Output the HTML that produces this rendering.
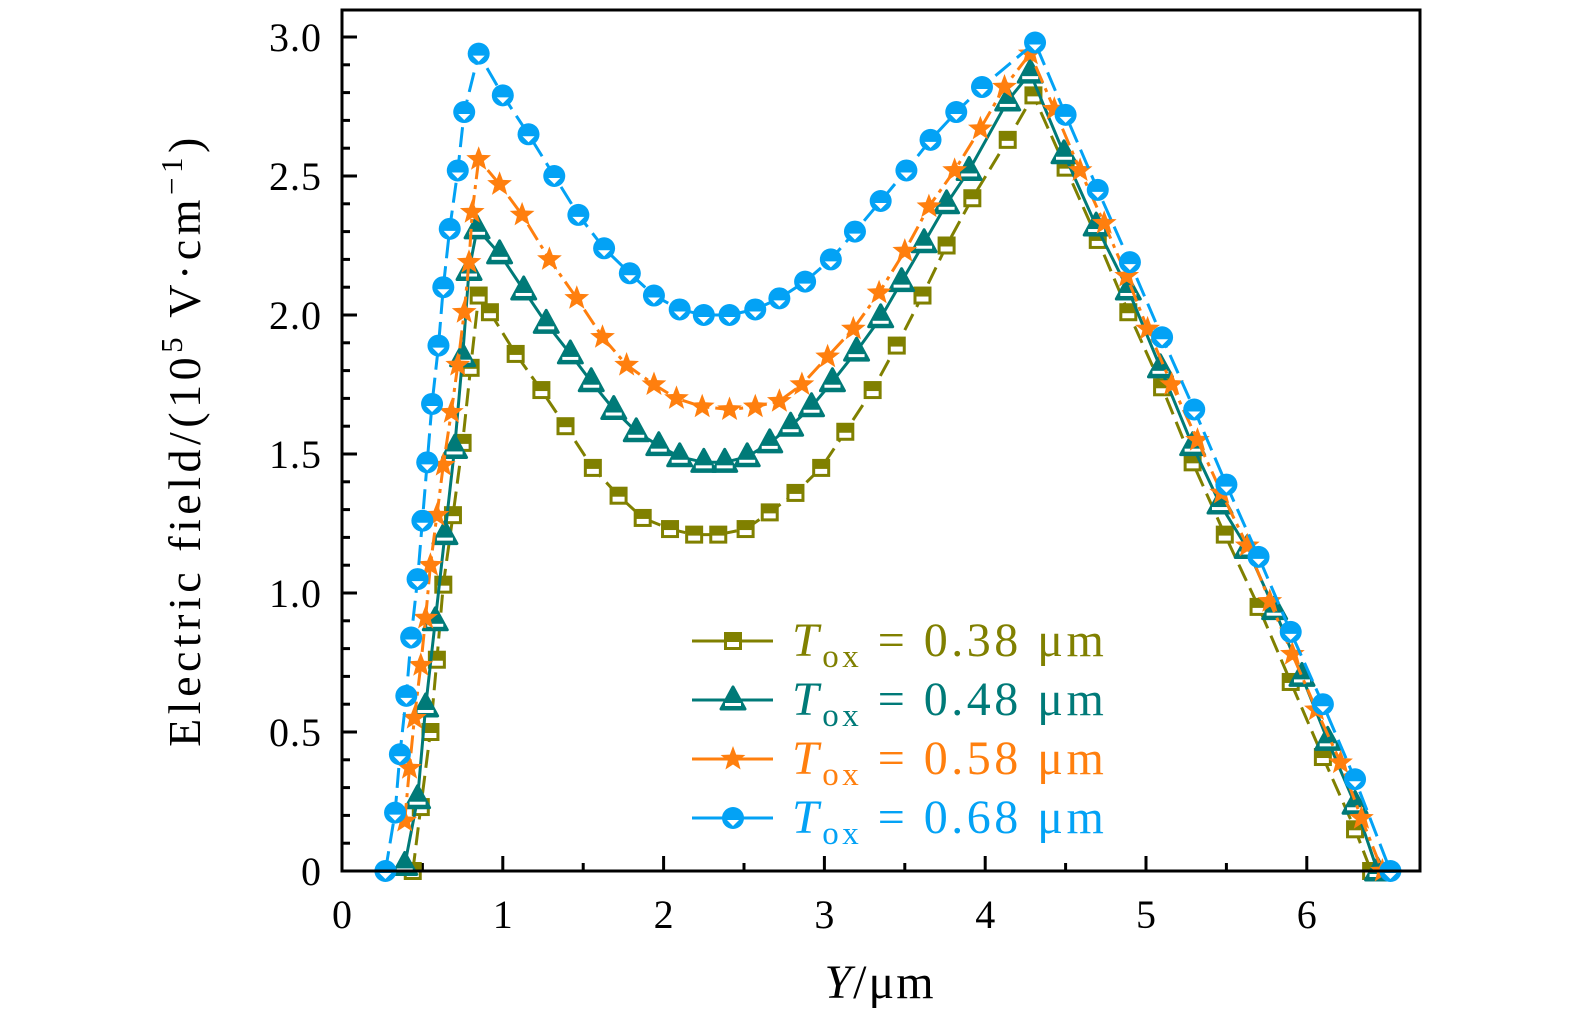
<!DOCTYPE html>
<html><head><meta charset="utf-8"><style>
html,body{margin:0;padding:0;background:#fff;}
svg{display:block;font-family:"Liberation Serif",serif;}
</style></head><body>
<svg id="chart" width="1575" height="1024" viewBox="0 0 1575 1024">
<rect x="0" y="0" width="1575" height="1024" fill="#fff"/>
<g id="ticks"></g>
<g id="series"></g>
<rect x="342" y="10" width="1078" height="861" fill="none" stroke="#000" stroke-width="3"/>
<g id="legend"></g>
<text x="880" y="998" font-size="48" letter-spacing="2" text-anchor="middle"><tspan font-style="italic">Y</tspan>/μm</text>
<text transform="translate(200,440) rotate(-90)" font-size="46" letter-spacing="4.5" text-anchor="middle">Electric field/(10<tspan dy="-18" font-size="31">5</tspan><tspan dy="18"> V·cm</tspan><tspan dy="-18" font-size="31">−1</tspan><tspan dy="18">)</tspan></text>
</svg>
<script>
const xTicks = [0,1,2,3,4,5,6];
const yTicks = [0,0.5,1.0,1.5,2.0,2.5,3.0];
const yTickLabels = ["0","0.5","1.0","1.5","2.0","2.5","3.0"];
const seriesNames = ["T_ox = 0.38 μm","T_ox = 0.48 μm","T_ox = 0.58 μm","T_ox = 0.68 μm"];
const legendValues = ["0.38","0.48","0.58","0.68"];
const s038x = [0.44,0.49,0.55,0.59,0.63,0.69,0.75,0.80,0.85,0.92,1.08,1.24,1.39,1.56,1.72,1.87,2.04,2.19,2.34,2.51,2.66,2.82,2.98,3.13,3.30,3.45,3.61,3.76,3.92,4.14,4.30,4.50,4.70,4.89,5.10,5.29,5.49,5.70,5.90,6.10,6.30,6.40];
const s038y = [0,0.23,0.50,0.76,1.03,1.28,1.54,1.81,2.07,2.01,1.86,1.73,1.60,1.45,1.35,1.27,1.23,1.21,1.21,1.23,1.29,1.36,1.45,1.58,1.73,1.89,2.07,2.25,2.42,2.63,2.79,2.53,2.27,2.01,1.74,1.47,1.21,0.95,0.68,0.41,0.15,0];
const s048x = [0.39,0.47,0.52,0.58,0.64,0.70,0.75,0.79,0.84,0.98,1.13,1.27,1.42,1.55,1.69,1.83,1.97,2.10,2.25,2.38,2.52,2.66,2.79,2.92,3.05,3.20,3.35,3.48,3.62,3.76,3.90,4.14,4.28,4.49,4.69,4.89,5.09,5.29,5.46,5.63,5.80,5.97,6.13,6.30,6.44];
const s048y = [0.02,0.26,0.59,0.90,1.21,1.52,1.85,2.16,2.31,2.22,2.09,1.97,1.86,1.76,1.66,1.58,1.53,1.49,1.47,1.47,1.49,1.54,1.60,1.67,1.76,1.87,1.99,2.12,2.26,2.40,2.52,2.77,2.87,2.58,2.32,2.09,1.81,1.53,1.32,1.16,0.94,0.70,0.47,0.24,0];
const s058x = [0.39,0.42,0.45,0.49,0.52,0.55,0.59,0.63,0.68,0.72,0.76,0.79,0.81,0.85,0.98,1.12,1.29,1.46,1.62,1.77,1.94,2.08,2.24,2.41,2.57,2.72,2.86,3.02,3.18,3.34,3.50,3.65,3.81,3.97,4.12,4.28,4.43,4.59,4.74,4.88,5.01,5.16,5.32,5.47,5.63,5.77,5.91,6.06,6.21,6.34,6.47];
const s058y = [0.18,0.37,0.55,0.74,0.91,1.10,1.28,1.46,1.65,1.82,2.01,2.19,2.37,2.56,2.47,2.36,2.20,2.06,1.92,1.82,1.75,1.70,1.67,1.66,1.67,1.69,1.75,1.85,1.95,2.08,2.23,2.39,2.52,2.67,2.82,2.94,2.74,2.52,2.33,2.14,1.95,1.75,1.55,1.36,1.17,0.97,0.78,0.58,0.39,0.19,0];
const s068x = [0.27,0.33,0.36,0.40,0.43,0.47,0.50,0.53,0.56,0.60,0.63,0.67,0.72,0.76,0.85,1.00,1.16,1.32,1.47,1.63,1.79,1.94,2.10,2.25,2.41,2.57,2.72,2.88,3.04,3.19,3.35,3.51,3.66,3.82,3.98,4.31,4.50,4.70,4.90,5.10,5.30,5.50,5.70,5.90,6.10,6.30,6.52];
const s068y = [0,0.21,0.42,0.63,0.84,1.05,1.26,1.47,1.68,1.89,2.10,2.31,2.52,2.73,2.94,2.79,2.65,2.50,2.36,2.24,2.15,2.07,2.02,2.00,2.00,2.02,2.06,2.12,2.20,2.30,2.41,2.52,2.63,2.73,2.82,2.98,2.72,2.45,2.19,1.92,1.66,1.39,1.13,0.86,0.60,0.33,0];

const NS="http://www.w3.org/2000/svg";
const X0=342,X1=1420,Y0=871,Y1=10;
const xs=v=>X0+v*160.8;
const ys=v=>Y0-v*278;
function mk(tag,attrs,parent){const e=document.createElementNS(NS,tag);for(const k in attrs)e.setAttribute(k,attrs[k]);parent.appendChild(e);return e;}
const tg=document.getElementById('ticks');
xTicks.forEach((t,i)=>{
  let l=mk('line',{x1:xs(t),x2:xs(t),y1:Y0,y2:Y0-15,stroke:'#000','stroke-width':3},tg);
  
  
  let m=mk('line',{x1:xs(t+0.5),x2:xs(t+0.5),y1:Y0,y2:Y0-8,stroke:'#000','stroke-width':3},tg);
  
  
  let tx=mk('text',{x:xs(t),y:928,'font-size':40,'text-anchor':'middle'},tg);
  tx.textContent=String(t);
  
  
});
for(let k=0;k<=30;k++){
  const v=k/10, major=(k%5===0);
  let l=mk('line',{x1:X0,x2:X0+(major?15:8),y1:ys(v),y2:ys(v),stroke:'#000','stroke-width':3},tg);
  
  
}
yTicks.forEach((t,i)=>{
  let tx=mk('text',{x:322,y:ys(t)+14,'font-size':40,'letter-spacing':1,'text-anchor':'end'},tg);
  tx.textContent=yTickLabels[i];
  
  
});
const colors=['#808000','#007a78','#ff7f0e','#03a2f5'];
const dashes=['18 8','none','18 6 4 6','20 8'];
function marker(type,cx,cy,c,parent){
  const g=mk('g',{},parent);
  if(type===0){
    mk('rect',{x:cx-9,y:cy-9,width:18,height:18,fill:c},g);
    mk('rect',{x:cx-6,y:cy+1,width:12,height:5,fill:'#fff'},g);
  } else if(type===1){
    mk('polygon',{points:`${cx},${cy-13} ${cx+12},${cy+9} ${cx-12},${cy+9}`,fill:c,stroke:c,'stroke-width':3,'stroke-linejoin':'round'},g);
    mk('rect',{x:cx-8,y:cy+3,width:16,height:3,fill:'#fff'},g);
  } else if(type===2){
    let p=[];for(let i=0;i<10;i++){const r=i%2?5.5:13,a=-Math.PI/2+i*Math.PI/5;p.push((cx+r*Math.cos(a)).toFixed(1)+','+(cy+r*Math.sin(a)).toFixed(1));}
    mk('polygon',{points:p.join(' '),fill:c},g);
  } else {
    mk('circle',{cx:cx,cy:cy,r:11,fill:c},g);
    mk('polygon',{points:`${cx-6},${cy+2} ${cx+6},${cy+2} ${cx},${cy+8}`,fill:'#fff'},g);
  }
  return g;
}
const sg=document.getElementById('series');
const allX=[s038x,s048x,s058x,s068x], allY=[s038y,s048y,s058y,s068y];
const serNames=['series-038','series-048','series-058','series-068'];
allX.forEach((xa,si)=>{
  const g=mk('g',{},sg);
  
  
  const pts=xa.map((x,i)=>xs(x).toFixed(1)+','+ys(allY[si][i]).toFixed(1)).join(' ');
  const pl=mk('polyline',{points:pts,fill:'none',stroke:colors[si],'stroke-width':3,'stroke-dasharray':dashes[si]},g);
  
  
  xa.forEach((x,i)=>{
    const m=marker(si,xs(x),ys(allY[si][i]),colors[si],g);
    
    
  });
});
const lg=document.getElementById('legend');
legendValues.forEach((v,i)=>{
  const y=641+i*59;
  const g=mk('g',{},lg);
  
  
  mk('line',{x1:692,x2:773,y1:y,y2:y,stroke:colors[i],'stroke-width':3},g);
  marker(i,733,y,colors[i],g);
  const t=mk('text',{x:792,y:y+15,'font-size':48,'letter-spacing':3.5,fill:colors[i]},g);
  t.innerHTML='<tspan font-style="italic">T</tspan><tspan dy="11" font-size="33">ox</tspan><tspan dy="-11"> = '+v+' μm</tspan>';
});
</script>
</body></html>
